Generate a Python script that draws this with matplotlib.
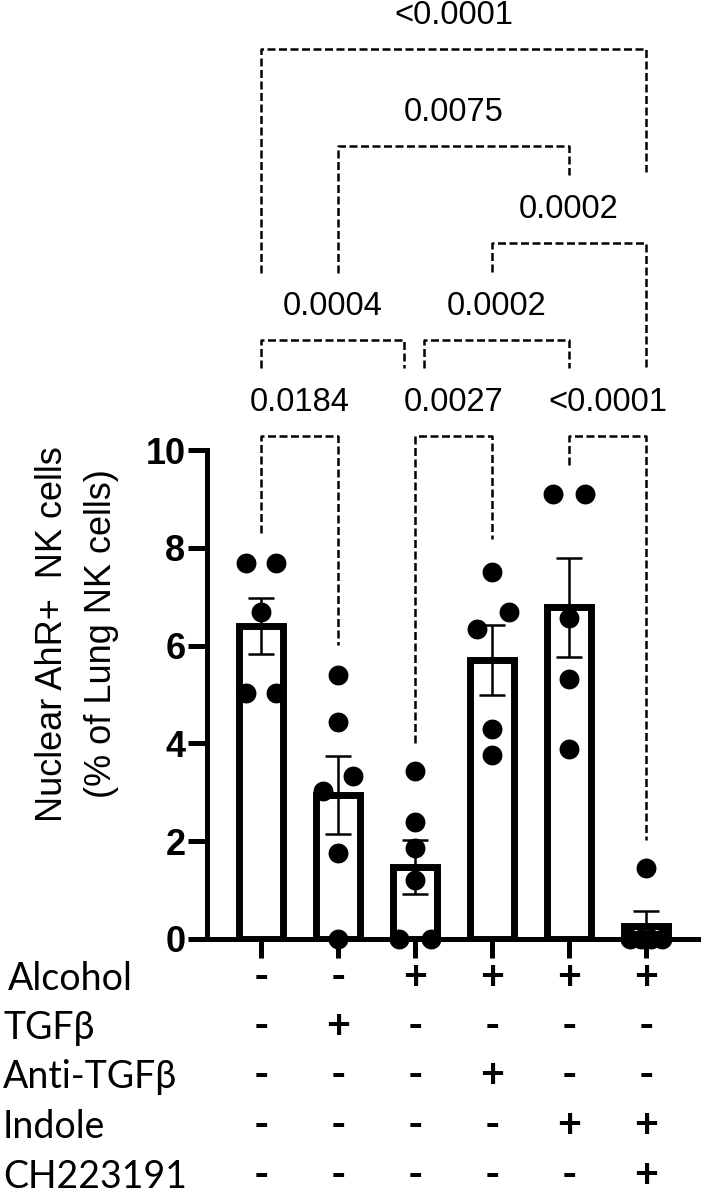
import matplotlib
matplotlib.use("Agg")
import matplotlib.pyplot as plt
import matplotlib.transforms as mtransforms


# =========================
# DATA
# =========================
bar_means = [6.40, 2.95, 1.48, 5.70, 6.78, 0.27]
bar_sems = [0.58, 0.80, 0.55, 0.72, 1.02, 0.30]

# individual animals per group (values) and their horizontal scatter (category units)
point_values = [
    [7.69, 7.69, 6.69, 5.03, 5.03],
    [5.40, 4.44, 3.33, 3.03, 1.75, 0.0],
    [3.44, 2.39, 1.86, 1.20, 0.0, 0.0],
    [7.50, 6.69, 6.34, 4.29, 3.76],
    [9.10, 9.10, 6.56, 5.32, 3.89],
    [1.45, 0.0, 0.0, 0.0, 0.0],
]
point_offsets = [
    [-0.2, 0.2, 0.0, -0.2, 0.2],
    [0.0, 0.0, 0.19, -0.2, 0.0, 0.0],
    [0.0, 0.0, 0.0, 0.0, -0.21, 0.21],
    [0.0, 0.22, -0.2, 0.0, 0.0],
    [-0.21, 0.21, 0.0, 0.0, 0.0],
    [0.0, -0.21, -0.07, 0.07, 0.21],
]

row_labels = ["Alcohol", "TGFβ", "Anti-TGFβ", "Indole", "CH223191"]
row_signs = [
    ["-", "-", "+", "+", "+", "+"],
    ["-", "+", "-", "-", "-", "-"],
    ["-", "-", "-", "+", "-", "-"],
    ["-", "-", "-", "-", "+", "+"],
    ["-", "-", "-", "-", "-", "+"],
]

# comparisons: left group, right group, p value label
cmp_left = [0, 2, 4, 0, 2, 3, 1, 0]
cmp_right = [1, 3, 5, 2, 4, 5, 4, 5]
cmp_labels = ["0.0184", "0.0027", "<0.0001", "0.0004", "0.0002", "0.0002", "0.0075", "<0.0001"]
cmp_line_y = [10.29, 10.29, 10.29, 12.25, 12.25, 14.23, 16.22, 18.2]
cmp_left_end = [8.30, 4.00, 9.69, 11.68, 11.68, 13.64, 13.62, 13.62]
cmp_right_end = [6.01, 8.18, 2.02, 11.68, 11.68, 11.68, 15.62, 15.68]
cmp_left_shift = [0, 0, 0, 0, 0.12, 0, 0, 0]
cmp_right_shift = [0, 0, 0, -0.14, 0, 0, 0, 0]


# =========================
# PLOT
# =========================
W, H = 703, 1199
fig = plt.figure(figsize=(W / 100, H / 100), dpi=100)

ax_left, ax_right = 207 / W, 698 / W
ax_bottom, ax_top = 1 - 939 / H, 1 - 450 / H
ax = fig.add_axes([ax_left, ax_bottom, ax_right - ax_left, ax_top - ax_bottom])

x = list(range(len(bar_means)))

ax.bar(x, bar_means, width=0.57, facecolor="white", edgecolor="black",
       linewidth=5, zorder=2)
ax.errorbar(x, bar_means, yerr=bar_sems, fmt="none", ecolor="black",
            elinewidth=1.8, capsize=9.5, capthick=1.8, zorder=3)

for i, (vals, offs) in enumerate(zip(point_values, point_offsets)):
    ax.scatter([i + o for o in offs], vals, s=205, color="black",
               linewidths=0, zorder=4, clip_on=False)

ax.set_xlim(-0.70, 5.675)
ax.set_ylim(0, 10)
ax.set_yticks([0, 2, 4, 6, 8, 10])
ax.set_xticks(x)
ax.set_xticklabels([])

for side in ["top", "right"]:
    ax.spines[side].set_visible(False)
for side in ["left", "bottom"]:
    ax.spines[side].set_linewidth(3.6)
    ax.spines[side].set_capstyle("projecting")

ax.tick_params(axis="y", length=13.5, width=3.6, pad=2, labelsize=26)
ax.tick_params(axis="x", length=14, width=3.6, direction="out")
for lab in ax.get_yticklabels():
    lab.set_fontfamily("Liberation Sans")
    lab.set_fontweight("bold")

# significance brackets
dash = (0, (3.2, 1.4))
for k in range(len(cmp_labels)):
    xl = cmp_left[k] + cmp_left_shift[k]
    xr = cmp_right[k] + cmp_right_shift[k]
    yl = cmp_line_y[k]
    ax.plot([xl, xl, xr, xr], [cmp_left_end[k], yl, yl, cmp_right_end[k]],
            color="black", linewidth=1.8, linestyle=dash, clip_on=False, zorder=1)
    ax.text((xl + xr) / 2, yl + 0.68, cmp_labels[k], ha="center", va="center",
            fontsize=23.5, family="Liberation Sans", clip_on=False)

# y axis label
for txt, xp in [("Nuclear AhR+  NK cells", 53), ("(% of Lung NK cells)", 102)]:
    fig.text(xp / W, 1 - 634 / H, txt, rotation=90, ha="center", va="center",
             fontsize=26, family="Liberation Sans")

# treatment table under the axis
trans = mtransforms.blended_transform_factory(ax.transData, fig.transFigure)
row_baselines = [990, 1039, 1088, 1138, 1188]
for r, label in enumerate(row_labels):
    yb = 1 - row_baselines[r] / H
    fig.text((8 if r == 0 else 3) / W, yb, label, ha="left", va="baseline",
             fontsize=27, family=["Lato", "DejaVu Sans"])
    for i, s in enumerate(row_signs[r]):
        ax.text(i, yb, s, transform=trans, ha="center", va="baseline",
                fontsize=30, fontweight="bold", family=["Lato", "DejaVu Sans"])

fig.savefig("out.png", dpi=100)
